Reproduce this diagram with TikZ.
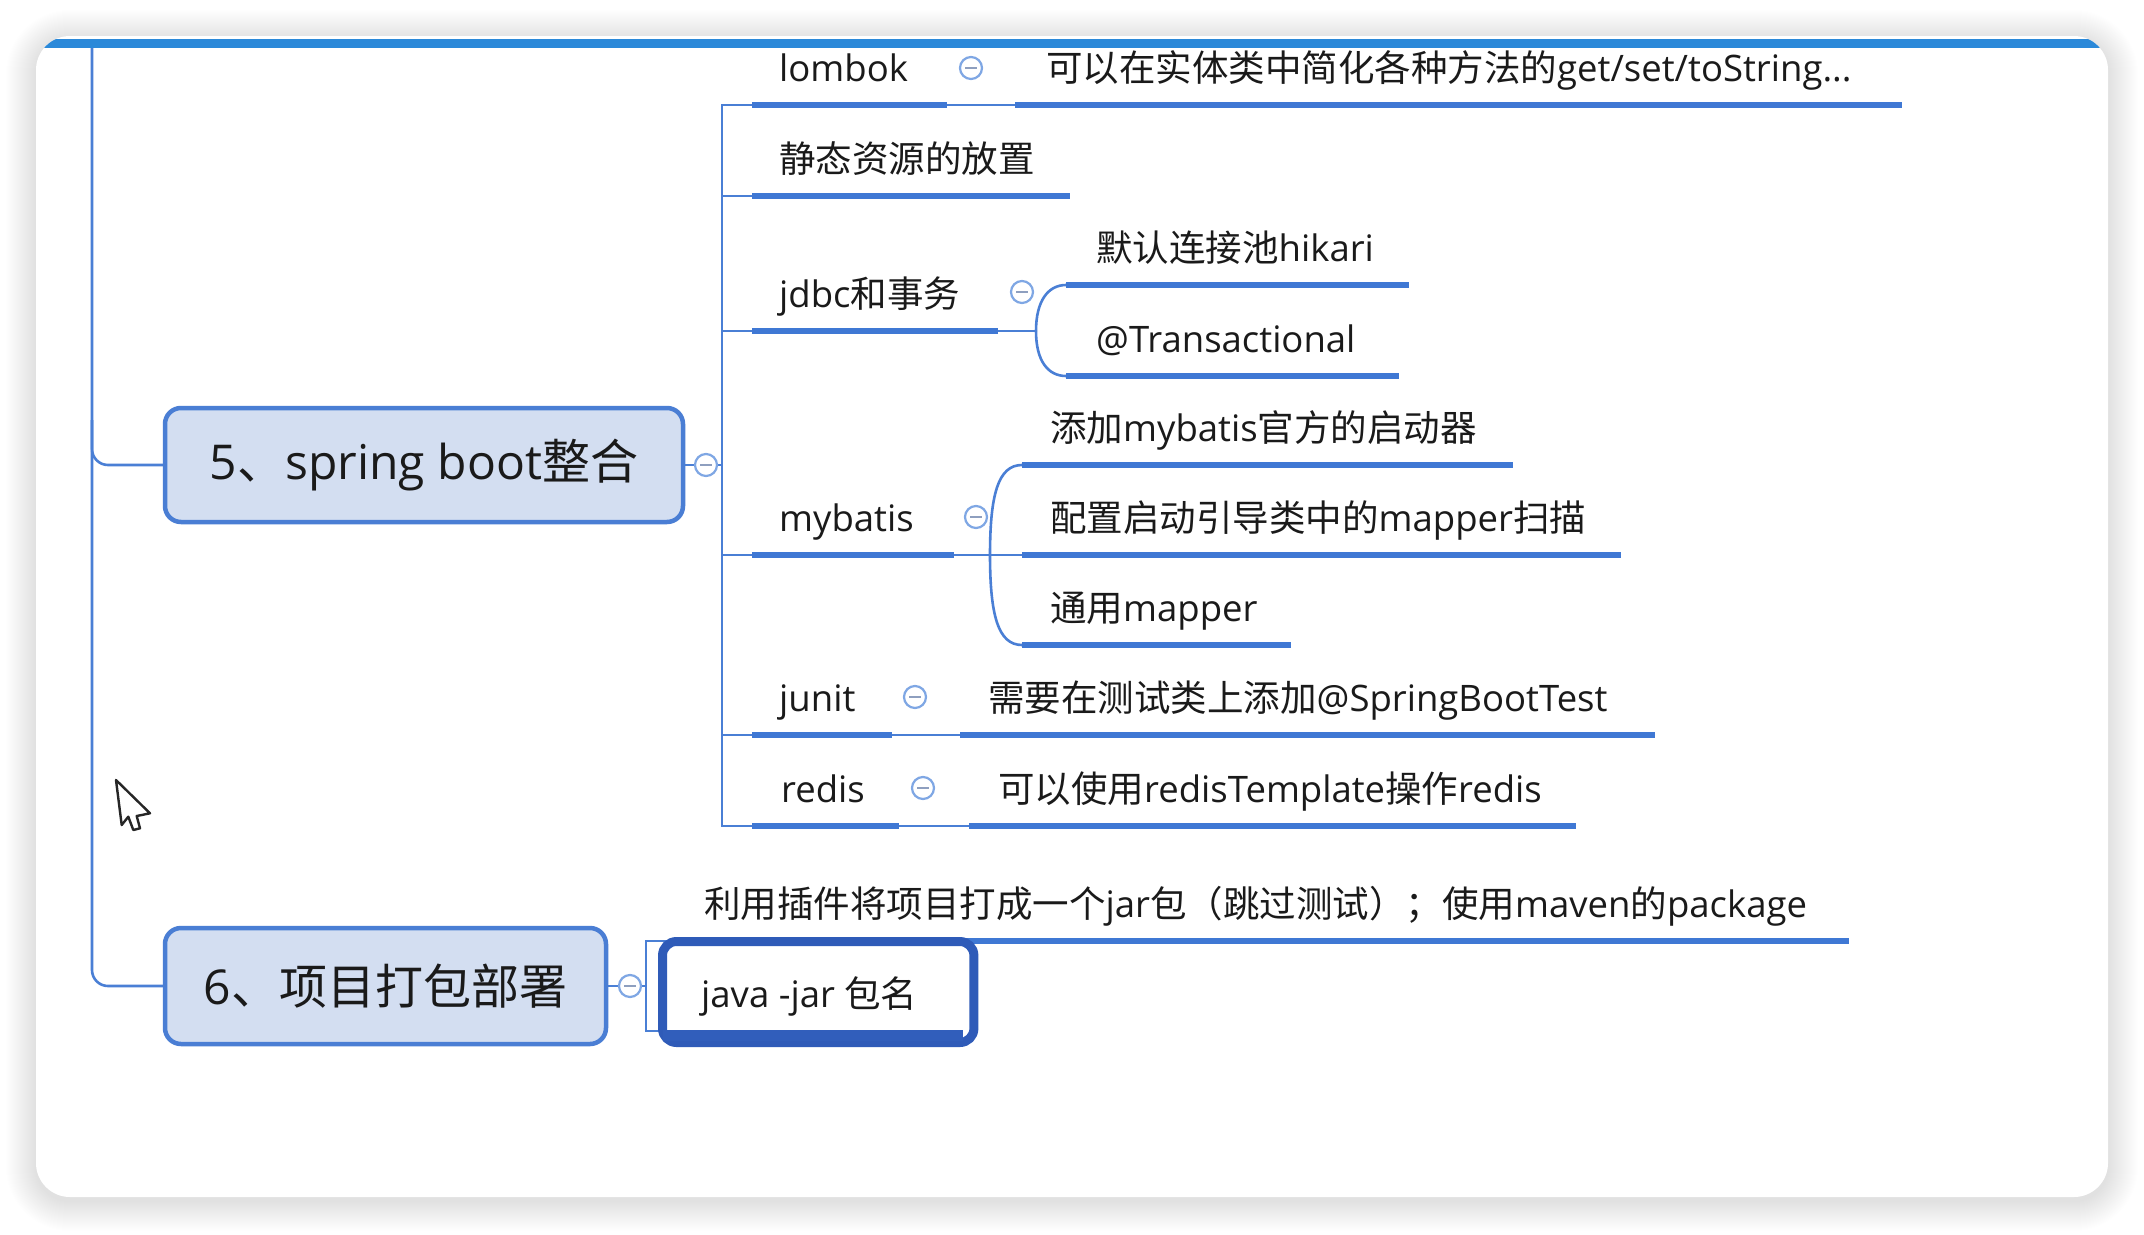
\documentclass[tikz,border=0pt]{standalone}
\usepackage{fontspec}
\setmainfont{Open Sans}
\newfontfamily\cjk{Noto Sans CJK SC}
\newcommand\zh[1]{{\cjk #1}}
\definecolor{conn}{HTML}{4A7FD5}
\definecolor{uline}{HTML}{3F78D4}
\definecolor{boxfill}{HTML}{D3DEF1}
\definecolor{boxline}{HTML}{4A7ED4}
\definecolor{txt}{HTML}{1A1A1A}
\definecolor{iconc}{HTML}{7FA7E4}
\definecolor{minusc}{HTML}{8E9FBF}
\definecolor{selc}{HTML}{2F5BB8}
\definecolor{topbar}{HTML}{2B89D9}
\pgfdeclarelayer{back}
\pgfdeclarelayer{bg}
\pgfdeclarelayer{mid}
\pgfdeclarelayer{top}
\pgfsetlayers{back,bg,mid,main,top}
\tikzset{
  conn/.style={draw=conn, line width=2.6pt},
  uline/.style={draw=uline, line width=6.5pt},
  topic/.style={anchor=south west, inner sep=0pt, text height=38pt, text depth=23pt,
    font=\fontsize{36.5}{40}\selectfont, text=txt},
  mainbox/.style={draw=boxline, fill=boxfill, line width=4.5pt, rounded corners=16pt,
    inner sep=0pt, font=\fontsize{48}{52}\selectfont, text=txt},
  collapse/.style={circle, draw=iconc, line width=2.2pt, fill=white, minimum size=22pt,
    inner sep=0pt, path picture={\draw[minusc, line width=1.6pt]
      ([xshift=-6pt]path picture bounding box.center) -- ([xshift=6pt]path picture bounding box.center);}},
  selbox/.style={draw=selc, line width=9pt, rounded corners=14pt, fill=white},
}
\begin{document}
\begin{tikzpicture}[x=1pt,y=-1pt]
\useasboundingbox (0,0) rectangle (2144,1234);
\begin{pgfonlayer}{back}
  \fill[white] (0,0) rectangle (2144,1234);
  \foreach \i [evaluate=\i as \r using 34+\i] in {1,...,30}{
    \fill[black,opacity=0.0038,rounded corners=\r pt] (36-\i,36-\i+4) rectangle (2108+\i,1197+\i+4);}
  \fill[white,rounded corners=34pt] (36,36) rectangle (2108,1197);
\end{pgfonlayer}

% main topics
\node[mainbox, minimum width=518pt, minimum height=114pt] (box5) at (424,465) {5\zh{、}spring boot\zh{整合}};
\node[mainbox, minimum width=441pt, minimum height=116pt] (box6) at (385.5,986) {6\zh{、项目打包部署}};
\node[collapse] (c5) at (706,465) {};
\node[collapse] (c6) at (630,986) {};

% subtopics
\node[topic] (lombok) at (752,105) {\makebox[195pt][l]{\hspace*{27pt}lombok}};
\node[topic] (lomdesc) at (1015,105) {\makebox[887pt][l]{\hspace*{31pt}\zh{可以在实体类中简化各种方法的}get/set/toString...}};
\node[topic] (static) at (752,196) {\makebox[318pt][l]{\hspace*{27pt}\zh{静态资源的放置}}};
\node[topic] (jdbc) at (752,331) {\makebox[246pt][l]{\hspace*{27pt}jdbc\zh{和事务}}};
\node[topic] (hikari) at (1066,285) {\makebox[343pt][l]{\hspace*{30pt}\zh{默认连接池}hikari}};
\node[topic] (trans) at (1066,376) {\makebox[333pt][l]{\hspace*{30pt}@Transactional}};
\node[topic] (mybatis) at (752,555) {\makebox[202pt][l]{\hspace*{27pt}mybatis}};
\node[topic] (mb1) at (1022,465) {\makebox[491pt][l]{\hspace*{28pt}\zh{添加}mybatis\zh{官方的启动器}}};
\node[topic] (mb2) at (1022,555) {\makebox[599pt][l]{\hspace*{28pt}\zh{配置启动引导类中的}mapper\zh{扫描}}};
\node[topic] (mb3) at (1022,645) {\makebox[269pt][l]{\hspace*{28pt}\zh{通用}mapper}};
\node[topic] (junit) at (752,735) {\makebox[140pt][l]{\hspace*{27pt}junit}};
\node[topic] (junitdesc) at (960,735) {\makebox[695pt][l]{\hspace*{28pt}\zh{需要在测试类上添加}@SpringBootTest}};
\node[topic] (redis) at (752,826) {\makebox[147pt][l]{\hspace*{29pt}redis}};
\node[topic] (redisdesc) at (969,826) {\makebox[607pt][l]{\hspace*{29pt}\zh{可以使用}redisTemplate\zh{操作}redis}};
\node[topic] (pkg) at (676,941) {\makebox[1173pt][l]{\hspace*{28pt}\zh{利用插件将项目打成一个}jar\zh{包（跳过测试）；使用}maven\zh{的}package}};
\node[topic] (java) at (663,1031) {\makebox[300pt][l]{\hspace*{38pt}java -jar \zh{包名}}};

% collapse icons of subtopics
\node[collapse] (clombok) at (971,68) {};
\node[collapse] (cjdbc) at (1022,292) {};
\node[collapse] (cmyb) at (976,517) {};
\node[collapse] (cjunit) at (915,697) {};
\node[collapse] (credis) at (923,788) {};

\begin{pgfonlayer}{bg}
  \foreach \n in {lombok,lomdesc,static,jdbc,hikari,trans,mybatis,mb1,mb2,mb3,junit,junitdesc,redis,redisdesc,pkg}
    \draw[uline] (\n.south west) -- (\n.south east);
  % root line
  \coordinate (roottop) at (92,40);
  \coordinate (root5) at (92,420);
  \draw[conn, rounded corners=16pt] (roottop) |- (box6.west);
  \draw[conn, rounded corners=16pt] (root5) |- (box5.west);
  % branch of 5
  \coordinate (fork5) at (722,465);
  \draw[conn] (box5.east) -- (c5.west);
  \draw[conn] (c5.east) -- (fork5);
  \draw[conn] (lombok.south west) -| (fork5) |- (redis.south west);
  \foreach \n in {static,jdbc,mybatis,junit}
    \draw[conn] (fork5) |- (\n.south west);
  \draw[conn] (lombok.south east) -- (lomdesc.south west);
  \coordinate (jfork) at (1036,331);
  \draw[conn] (jdbc.south east) -- (jfork);
  \draw[conn] (jfork) .. controls +(0,-30) and +(-18,0) .. (hikari.south west);
  \draw[conn] (jfork) .. controls +(0,30) and +(-18,0) .. (trans.south west);
  \coordinate (mfork) at (990,555);
  \draw[conn] (mybatis.south east) -- (mb2.south west);
  \draw[conn] (mfork) .. controls +(0,-60) and +(-24,0) .. (mb1.south west);
  \draw[conn] (mfork) .. controls +(0,60) and +(-24,0) .. (mb3.south west);
  \draw[conn] (junit.south east) -- (junitdesc.south west);
  \draw[conn] (redis.south east) -- (redisdesc.south west);
  % branch of 6
  \coordinate (fork6) at (646,986);
  \draw[conn] (box6.east) -- (c6.west);
  \draw[conn] (c6.east) -- (fork6);
  \draw[conn] (fork6) |- (pkg.south west);
  \draw[conn] (fork6) |- (java.south west);
\end{pgfonlayer}

\begin{pgfonlayer}{mid}
  \draw[selbox] ([shift={(-0.5,-89.5)}]java.south west) rectangle ([shift={(10.5,11.5)}]java.south east);
  \draw[selc!90!uline, line width=11pt] ([shift={(0,4)}]java.south west) -- ([shift={(0,4)}]java.south east);
\end{pgfonlayer}

\begin{pgfonlayer}{top}
  \begin{scope}
    \clip[rounded corners=34pt] (36,36) rectangle (2108,1197);
    \fill[topbar] (30,39) rectangle (2114,48);
  \end{scope}
  \draw[black!85, line width=2.4pt, line join=round, fill=white]
    (116,780) -- (121.7,825) -- (128.3,816.7) -- (133.3,830) -- (140,828.3) -- (136.7,816) -- (150,813.3) -- cycle;
\end{pgfonlayer}
\end{tikzpicture}
\end{document}
